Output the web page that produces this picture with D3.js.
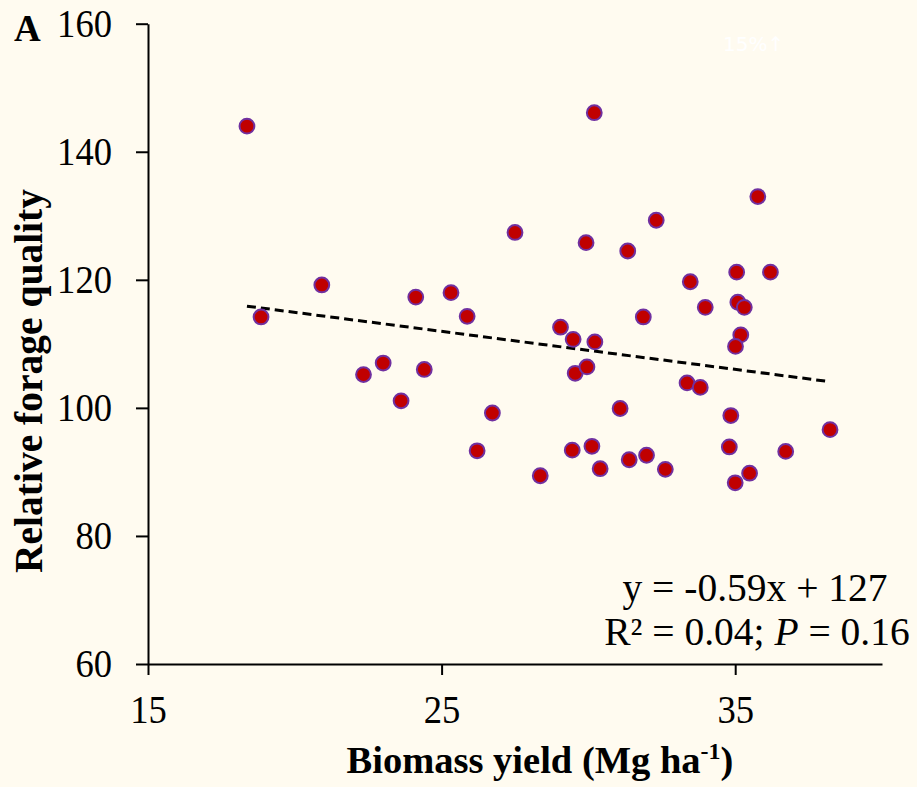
<!DOCTYPE html>
<html>
<head>
<meta charset="utf-8">
<script src="https://cdn.jsdelivr.net/npm/d3@7"></script>
<style>
    body { margin: 0; background: #FFFBF0; }
    svg { display: block; }
    .axis path, .axis line { stroke: #000; stroke-width: 2; }
    .axis text { font-family: "Liberation Serif", "Times New Roman", serif; font-size: 40px; fill: #000; }
</style>
</head>
<body>
<script>
(function(){

    //biomass yield (Mg ha-1) and relative forage quality
    var biomassYield = [18.37, 18.85, 20.92, 22.34, 23.01, 23.62, 24.12, 24.41, 25.32, 25.87,
        26.21, 26.73, 27.50, 28.36, 29.05, 29.45, 29.48, 29.55, 29.92, 29.95,
        30.12, 30.20, 30.22, 30.40, 31.08, 31.34, 31.39, 31.87, 31.98, 32.31,
        32.62, 33.36, 33.47, 33.81, 33.98, 34.85, 34.80, 35.05, 35.09, 35.31,
        35.19, 35.01, 35.00, 35.49, 35.77, 36.20, 36.72, 38.23];
    var forageQuality = [144.0, 114.2, 119.2, 105.2, 107.0, 101.1, 117.3, 106.0, 118.0, 114.3,
        93.3, 99.2, 127.4, 89.4, 112.6, 93.4, 110.7, 105.4, 125.8, 106.4,
        94.0, 146.1, 110.3, 90.5, 99.9, 124.5, 91.9, 114.2, 92.6, 129.3,
        90.4, 103.9, 119.7, 103.2, 115.7, 98.8, 93.9, 121.2, 116.5, 115.7,
        111.4, 109.6, 88.3, 89.8, 133.0, 121.2, 93.2, 96.6];

    var fitSlope = -0.594,
        fitIntercept = 126.8;

    var xTicks = [15, 25, 35],
        yTicks = [60, 80, 100, 120, 140, 160];
    var eqLines = ["y = -0.59x + 127"];

    var width = 917,
        height = 787;

    var svg = d3.select("body")
        .append("svg")
        .attr("width", width)
        .attr("height", height);

    var x = d3.scaleLinear()
        .domain([15, 40])
        .range([148, 882]);

    var y = d3.scaleLinear()
        .domain([60, 160])
        .range([664, 23.7]);

    //tick labels are a bit narrow in the original
    function squeeze(g){
        g.selectAll(".tick text")
            .attr("textLength", function(d){ return String(d).length * 18.3; })
            .attr("lengthAdjust", "spacingAndGlyphs");
    }

    //y axis
    svg.append("g")
        .attr("class", "axis")
        .attr("transform", "translate(" + x(15) + ",0)")
        .call(d3.axisLeft(y).tickValues(yTicks).tickSize(12).tickSizeOuter(0).tickPadding(24))
        .call(squeeze);

    //x axis
    svg.append("g")
        .attr("class", "axis")
        .attr("transform", "translate(0," + y(60) + ")")
        .call(d3.axisBottom(x).tickValues(xTicks).tickSize(11).tickSizeOuter(0).tickPadding(20))
        .call(squeeze);

    //trend line across the range of the data
    var xExtent = d3.extent(biomassYield);
    svg.append("line")
        .attr("x1", x(xExtent[0]))
        .attr("y1", y(fitSlope * xExtent[0] + fitIntercept))
        .attr("x2", x(xExtent[1]))
        .attr("y2", y(fitSlope * xExtent[1] + fitIntercept))
        .attr("stroke", "#000")
        .attr("stroke-width", 3)
        .attr("stroke-dasharray", "9,5");

    //points
    svg.selectAll(".dot")
        .data(d3.range(biomassYield.length))
        .enter()
        .append("circle")
        .attr("class", "dot")
        .attr("cx", function(i){ return x(biomassYield[i]); })
        .attr("cy", function(i){ return y(forageQuality[i]); })
        .attr("r", 7.4)
        .attr("fill", "#C00000")
        .attr("stroke", "#7030A0")
        .attr("stroke-width", 2);

    var serif = "'Liberation Serif', 'Times New Roman', serif";

    //regression text
    svg.append("text")
        .attr("x", 755)
        .attr("y", 601)
        .attr("text-anchor", "middle")
        .style("font-family", serif)
        .style("font-size", "39.5px")
        .text(eqLines[0]);

    var eq2 = svg.append("text")
        .attr("x", 757)
        .attr("y", 645)
        .attr("text-anchor", "middle")
        .style("font-family", serif)
        .style("font-size", "39.5px");
    eq2.append("tspan").text("R² = 0.04; ");
    eq2.append("tspan").style("font-style", "italic").text("P");
    eq2.append("tspan").text(" = 0.16");

    //axis titles
    var xt = svg.append("text")
        .attr("x", 540)
        .attr("y", 773)
        .attr("text-anchor", "middle")
        .style("font-family", serif)
        .style("font-size", "38.5px")
        .style("font-weight", "bold");
    xt.append("tspan").text("Biomass yield (Mg ha");
    xt.append("tspan").attr("dy", -14).style("font-size", "24px").text("-1");
    xt.append("tspan").attr("dy", 14).text(")");

    svg.append("text")
        .attr("transform", "translate(42,381) rotate(-90)")
        .attr("text-anchor", "middle")
        .style("font-family", serif)
        .style("font-size", "39.5px")
        .style("font-weight", "bold")
        .text("Relative forage quality");

    //panel letter
    svg.append("text")
        .attr("x", 14)
        .attr("y", 41)
        .style("font-family", serif)
        .style("font-size", "37px")
        .style("font-weight", "bold")
        .text("A");

    //faint label in the top corner
    svg.append("text")
        .attr("x", 723)
        .attr("y", 51)
        .style("font-family", "'DejaVu Sans', sans-serif")
        .style("font-size", "20px")
        .attr("fill", "#FFFFFF")
        .text("15%↑");

})();
</script>
</body>
</html>
